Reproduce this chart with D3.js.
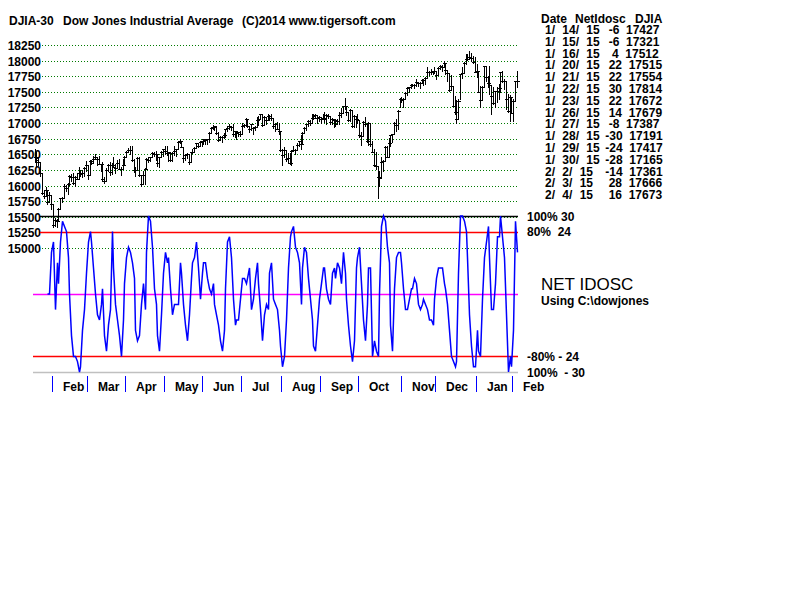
<!DOCTYPE html>
<html>
<head>
<meta charset="utf-8">
<script src="https://cdn.jsdelivr.net/npm/d3@7"></script>
<style>
  html, body { margin: 0; padding: 0; background: #fff; }
  svg { display: block; font-family: "Liberation Sans", Arial, sans-serif; }
  text { white-space: pre; }
</style>
</head>
<body>
<svg id="chart" width="800" height="600"></svg>
<script>
// Month labels along the bottom (a label for each month that starts inside the window)
const monthLabels = ["Feb", "Mar", "Apr", "May", "Jun", "Jul", "Aug", "Sep", "Oct", "Nov", "Dec", "Jan", "Feb"];
// trading days of each month in the window, Jan 17 2014 .. Feb 4 2015
const monthLengths = [10, 19, 21, 21, 21, 21, 22, 21, 21, 23, 19, 22, 20, 3];

const closes = [
  16459,16414,16374,16197,15879,15838,15929,15739,15849,15699,
  15373,15445,15440,15629,15794,15802,15995,15964,16028,16154,16130,16041,16133,16103,16207,16180,16198,16273,16322,
  16168,16396,16360,16422,16453,16419,16351,16340,16109,16066,16247,16336,16222,16331,16303,16277,16368,16269,16264,16323,16458,
  16533,16573,16573,16413,16246,16256,16437,16170,16027,16173,16263,16425,16409,16449,16514,16502,16502,16361,16449,16535,16581,
  16559,16513,16531,16401,16519,16551,16583,16695,16715,16614,16447,16491,16512,16374,16533,16543,16606,16676,16633,16699,16717,
  16744,16722,16738,16836,16924,16943,16946,16844,16734,16776,16781,16808,16907,16921,16947,16937,16818,16868,16846,16852,16827,
  16956,16976,17068,16956,16907,16986,16915,16944,17055,17061,17138,16977,17100,17052,17114,17087,17084,16961,16983,16912,16880,16563,
  16493,16569,16429,16443,16368,16554,16570,16561,16652,16714,16663,16839,16920,16979,17039,17001,17077,17107,17122,17080,17098,
  17068,17078,17070,17137,17111,17014,17069,17049,16988,17031,17132,17157,17266,17280,17173,17056,17210,16946,17113,17071,17043,
  16805,16801,17010,16992,16719,16994,16659,16544,16321,16315,16142,16117,16380,16400,16615,16461,16678,16805,16818,17006,16974,17195,17391,
  17366,17384,17485,17554,17574,17614,17615,17612,17653,17635,17648,17688,17686,17719,17810,17818,17815,17828,17828,
  17777,17880,17913,17900,17959,17852,17801,17533,17596,17281,17181,17069,17357,17778,17805,17959,18024,18030,18054,18038,17983,17823,
  17833,17502,17372,17585,17908,17737,17641,17614,17427,17321,17512,17515,17554,17814,17672,17679,17387,17191,17417,17165,
  17361,17666,17673
];

const highs = [
  16580,16530,16450,16370,16190,15930,15980,15920,15900,15840,
  15700,15480,15470,15640,15800,15820,16020,16010,16040,16170,16180,16200,16150,16200,16290,16250,16250,16290,16400,
  16320,16410,16410,16470,16510,16460,16470,16350,16370,16140,16280,16340,16370,16360,16460,16350,16410,16420,16290,16430,16480,
  16550,16600,16630,16640,16430,16300,16450,16460,16170,16230,16280,16440,16460,16460,16530,16530,16550,16500,16460,16550,16590,
  16630,16630,16540,16540,16530,16640,16590,16710,16740,16720,16610,16500,16520,16510,16540,16580,16610,16680,16680,16720,16720,
  16750,16740,16750,16850,16940,16970,16950,16940,16860,16800,16800,16840,16910,16960,16980,16950,16980,16880,16870,16860,16870,
  17000,16990,17080,17060,16950,16990,16940,16960,17090,17110,17150,17150,17120,17100,17150,17130,17150,17080,17000,17020,17000,16860,
  16590,16610,16570,16520,16520,16570,16630,16580,16680,16720,16810,16860,16930,16990,17050,17050,17140,17150,17150,17120,17120,
  17100,17150,17180,17150,17150,17120,17080,17070,17060,17060,17170,17240,17280,17400,17280,17170,17230,17200,17130,17110,17140,
  17050,16860,17040,17100,16990,17020,17000,16710,16590,16530,16320,16240,16450,16410,16630,16630,16760,16810,16830,17010,17070,17210,17400,
  17410,17400,17500,17570,17580,17630,17630,17630,17710,17660,17660,17710,17700,17730,17900,17830,17860,17830,17890,
  17830,17890,17930,17930,17990,17960,17850,17800,17770,17590,17430,17370,17380,17780,17900,17970,18110,18100,18160,18120,18070,18060,
  17950,17840,17600,17600,17920,17920,17760,17920,17610,17580,17520,17570,17620,17820,17830,17700,17680,17460,17450,17400,
  17380,17670,17840
];

const lows = [
  16380,16320,16330,16150,15870,15800,15840,15700,15740,15630,
  15340,15360,15340,15440,15630,15730,15800,15920,15860,16010,16080,16020,16000,16100,16110,16150,16130,16160,16240,
  16100,16170,16340,16360,16420,16330,16340,16240,16080,16040,16070,16240,16170,16180,16290,16200,16280,16260,16170,16260,16330,
  16460,16530,16510,16400,16220,16160,16250,16150,16000,16040,16020,16270,16380,16390,16450,16480,16410,16320,16300,16450,16480,
  16510,16490,16400,16390,16400,16490,16470,16580,16680,16610,16380,16410,16440,16340,16370,16520,16540,16610,16620,16630,16640,
  16660,16660,16660,16700,16840,16910,16890,16820,16710,16730,16700,16760,16780,16880,16910,16890,16800,16780,16740,16790,16790,
  16830,16930,16990,16930,16860,16890,16830,16890,16950,16970,17060,16950,16980,16980,17060,17050,17050,16920,16870,16900,16830,16560,
  16330,16460,16390,16360,16340,16330,16550,16510,16570,16640,16580,16670,16840,16890,16960,16970,17010,17070,17080,17000,17040,
  17000,17060,17020,16990,17080,16990,16990,16940,16960,16990,16980,17100,17160,17220,17130,17040,17030,16940,16940,16930,17000,
  16780,16650,16800,16950,16700,16650,16640,16530,16310,16270,15800,15990,16120,16230,16400,16450,16460,16640,16690,16820,16880,16900,17250,
  17330,17260,17390,17450,17490,17560,17590,17560,17590,17590,17560,17640,17610,17620,17730,17770,17780,17790,17800,
  17700,17770,17860,17830,17890,17790,17670,17520,17540,17270,17140,17000,17060,17390,17720,17800,17950,18010,18020,18000,17960,17810,
  17730,17490,17260,17390,17590,17680,17580,17460,17150,17300,17250,17330,17390,17500,17660,17550,17220,17180,17040,17160,
  17030,17360,17580
];

// NET IDOSC oscillator, one value per trading day (blank before it starts)
const netIdosc = [
  null,null,null,null,null,null,null,0,0,16,
  20,-6,12,4,20,28,26,24,14,0,
  -16,-24,-24,-26,-30,-28,-14,-6,8,20,
  24,20,10,0,-8,-10,-4,2,-16,-22,
  -12,-6,24,10,-4,-10,-16,-24,-10,4,
  14,18,16,12,6,-14,-18,-16,-4,4,
  -6,16,30,28,18,2,-4,-16,-22,-8,
  8,16,12,14,2,-8,-4,-4,-4,12,
  8,-4,-12,-18,-8,6,12,14,20,10,
  -2,8,12,12,6,2,0,4,-4,-8,
  -12,-18,-22,-14,2,20,22,14,-2,-12,
  -10,-10,-2,6,6,4,6,10,-6,-2,
  6,12,4,-6,-18,-8,-4,-6,8,12,
  -2,-4,-6,-14,-20,-28,-24,-10,10,22,
  24,26,18,16,12,-4,10,18,16,6,
  -2,-10,-20,-22,-12,-2,4,10,10,2,
  -2,-4,8,10,6,12,10,4,16,8,
  -2,-12,-20,-26,-18,10,14,18,4,-10,
  -18,-4,10,10,-24,-18,-22,-24,0,26,
  30,28,18,12,-12,-22,2,14,16,16,
  12,2,-6,-6,-2,2,2,6,4,-4,
  -6,-4,-2,-4,-6,-10,-10,-12,-2,6,
  10,10,10,4,2,-4,-14,-24,-26,-28,
  -26,8,30,30,28,24,14,-8,-20,-28,
  -28,-14,-22,-24,-2,14,20,26,14,-6,
  -6,4,22,22,30,22,14,-8,-30,-24,
  -28,-14,28,16
];

const priceTicks = [15000, 15250, 15500, 15750, 16000, 16250, 16500, 16750, 17000, 17250, 17500, 17750, 18000, 18250];

// oscillator reference levels and their labels on the right
const levelValues = [30, 24, 0, -24, -30];
const levelColors = ["#000000", "#ff0000", "#ff00ff", "#ff0000", "#c0c0c0"];
const levelLabels = ["100% 30", "80%  24", "", "-80% - 24", "100%  - 30"];

// dates of the last 15 rows listed in the table
const tableDates = ["1/ 14/ 15", "1/ 15/ 15", "1/ 16/ 15", "1/ 20/ 15", "1/ 21/ 15", "1/ 22/ 15", "1/ 23/ 15",
  "1/ 26/ 15", "1/ 27/ 15", "1/ 28/ 15", "1/ 29/ 15", "1/ 30/ 15", "2/ 2/ 15", "2/ 3/ 15", "2/ 4/ 15"];

const svg = d3.select("#chart");
const n = closes.length;
const x = d3.scaleLinear().domain([0, n - 1]).range([34.6, 517]);
const y = d3.scaleLinear().domain([15000, 18250]).range([248, 45]);
const yi = d3.scaleLinear().domain([-30, 30]).range([372, 216]);
const px = i => Math.round(x(i)) + 0.5;
const crisp = v => Math.round(v) + 0.5;

svg.append("rect").attr("width", 800).attr("height", 600).attr("fill", "#fff");

// title
const title = svg.append("g").attr("font-size", 12).attr("font-weight", "bold");
title.append("text").attr("x", 9).attr("y", 25).text("DJIA-30");
title.append("text").attr("x", 63).attr("y", 25).text("Dow Jones Industrial Average");
title.append("text").attr("x", 242).attr("y", 25).text("(C)2014 www.tigersoft.com");

// price grid: dotted green lines with bold labels
const grid = svg.append("g").attr("transform", "translate(42,0)")
  .call(d3.axisLeft(y).tickValues(priceTicks).tickSize(-476).tickFormat(d3.format("d")));
grid.select(".domain").remove();
grid.selectAll(".tick line")
  .attr("stroke", "#007a00").attr("stroke-dasharray", "1,2")
  .attr("shape-rendering", "crispEdges");
grid.selectAll(".tick").attr("transform", d => `translate(0,${crisp(y(d))})`);
grid.selectAll(".tick text")
  .attr("x", -1).attr("dy", null).attr("y", 4)
  .attr("fill", "#000").attr("font-size", 12).attr("font-weight", "bold")
  .attr("font-family", "\"Liberation Sans\", Arial, sans-serif");

// oscillator reference lines
svg.append("g").selectAll("line").data(levelValues).join("line")
  .attr("x1", (d, i) => i < 2 ? 40 : 33).attr("x2", 518)
  .attr("y1", d => crisp(yi(d))).attr("y2", d => crisp(yi(d)))
  .attr("stroke", (d, i) => levelColors[i]).attr("stroke-width", 1.4);

svg.append("g").attr("font-size", 12).attr("font-weight", "bold")
  .selectAll("text").data(levelValues).join("text")
  .attr("x", 527).attr("y", d => yi(d) + 4.5)
  .text((d, i) => levelLabels[i]);

// price bars: high-low line with a close tick
const bars = svg.append("g").attr("stroke", "#000").attr("shape-rendering", "crispEdges");
bars.selectAll("line.hl").data(closes).join("line").attr("class", "hl")
  .attr("x1", (d, i) => px(i)).attr("x2", (d, i) => px(i))
  .attr("y1", (d, i) => Math.round(y(highs[i]))).attr("y2", (d, i) => Math.round(y(lows[i])) + 1);
bars.selectAll("line.cl").data(closes).join("line").attr("class", "cl")
  .attr("x1", (d, i) => px(i) - 1.5).attr("x2", (d, i) => px(i) + 2.5)
  .attr("y1", d => crisp(y(d))).attr("y2", d => crisp(y(d)));

// oscillator line
const line = d3.line().defined(d => d != null)
  .x((d, i) => px(i)).y(d => yi(d));
svg.append("path").datum(netIdosc)
  .attr("d", line).attr("fill", "none")
  .attr("stroke", "#0000ff").attr("stroke-width", 1.5);

// month boundaries and labels
const monthStarts = [];
let acc = 0;
monthLengths.slice(0, -1).forEach(len => { acc += len; monthStarts.push(acc); });
const tickX = s => crisp((x(s - 1) + x(s)) / 2);
svg.append("g").selectAll("line").data(monthStarts).join("line")
  .attr("x1", tickX).attr("x2", tickX).attr("y1", 376).attr("y2", 392)
  .attr("stroke", "#0000ff").attr("shape-rendering", "crispEdges");
svg.append("g").attr("font-size", 12).attr("font-weight", "bold")
  .selectAll("text").data(monthStarts).join("text")
  .attr("x", s => tickX(s) + 10.5).attr("y", 391)
  .text((s, i) => monthLabels[i]);

// indicator name
svg.append("text").attr("x", 541).attr("y", 290).attr("font-size", 17).text("NET IDOSC");
svg.append("text").attr("x", 541).attr("y", 305).attr("font-size", 12).attr("font-weight", "bold")
  .text("Using C:\\dowjones");

// table of the latest values
const table = svg.append("g").attr("font-size", 12).attr("font-weight", "bold");
table.append("text").attr("x", 541).attr("y", 22.5).text("Date");
table.append("text").attr("x", 575).attr("y", 22.5).text("NetIdosc");
table.append("text").attr("x", 635).attr("y", 22.5).text("DJIA");
const rows = tableDates.map((d, k) => {
  const i = n - tableDates.length + k;
  return { date: d, net: netIdosc[i], close: closes[i] };
});
const rowText = table.selectAll("text.row").data(rows).join("text").attr("class", "row")
  .attr("y", (d, k) => 34 + k * 11.8);
rowText.append("tspan").attr("x", 545).attr("word-spacing", 4).text(d => d.date);
rowText.append("tspan").attr("x", 602).text(d => String(d.net).padStart(4, " ") + "  " + d.close);
</script>
</body>
</html>
